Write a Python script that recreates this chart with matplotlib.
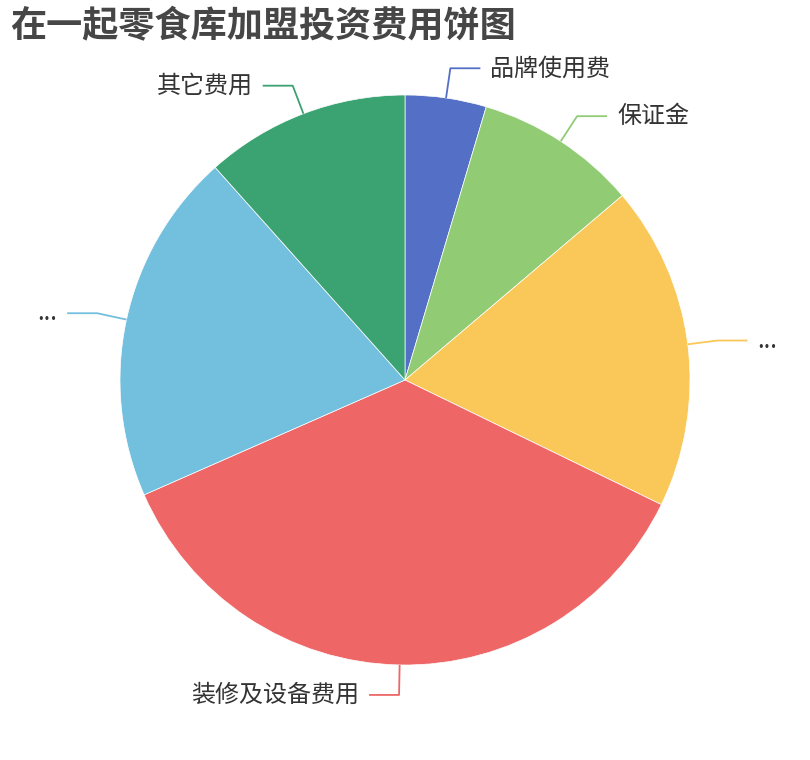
import numpy as np
import matplotlib
matplotlib.use('Agg')
import matplotlib.pyplot as plt

plt.rcParams['font.family'] = ['Noto Sans CJK SC', 'DejaVu Sans']

# data (share of total investment, %)
labels = ['品牌使用费', '保证金', '...', '装修及设备费用', '...', '其它费用']
values = [4.6, 9.2, 18.4, 36.2, 20.0, 11.6]
colors = ['#5470c6', '#91cc75', '#fac858', '#ee6666', '#73c0de', '#3ba272']

W, H = 810, 760
fig = plt.figure(figsize=(W / 100, H / 100), dpi=100)
ax = fig.add_axes([0, 0, 1, 1])

cx, cy, r = 405, H - 380, 285
wedges, _ = ax.pie(values, colors=colors, startangle=90, counterclock=False,
                   center=(cx, cy), radius=r,
                   wedgeprops=dict(edgecolor='white', linewidth=0.5))
ax.set_xlim(0, W)
ax.set_ylim(0, H)
ax.set_aspect('equal')
ax.axis('off')

# label lines: radial segment then horizontal segment
len1, len2 = 30, 30
for w, lab, col in zip(wedges, labels, colors):
    ang = np.deg2rad((w.theta1 + w.theta2) / 2)
    dx, dy = np.cos(ang), np.sin(ang)
    side = 1 if dx >= 0 else -1
    x0, y0 = cx + r * dx, cy + r * dy
    x1, y1 = cx + (r + len1) * dx, cy + (r + len1) * dy
    x2 = x1 + side * len2
    ax.plot([x0, x1, x2], [y0, y1, y1], color=col, lw=1.3, solid_capstyle='butt')
    ax.text(x2 + side * 10, y1, lab, ha='left' if side > 0 else 'right',
            va='center', fontsize=17.3, color='#333333')

fig.text(10 / W, 1 - 27 / H, '在一起零食库加盟投资费用饼图', fontsize=26,
         fontweight='bold', color='#464646', ha='left', va='center')

fig.savefig('out.png', dpi=100)
